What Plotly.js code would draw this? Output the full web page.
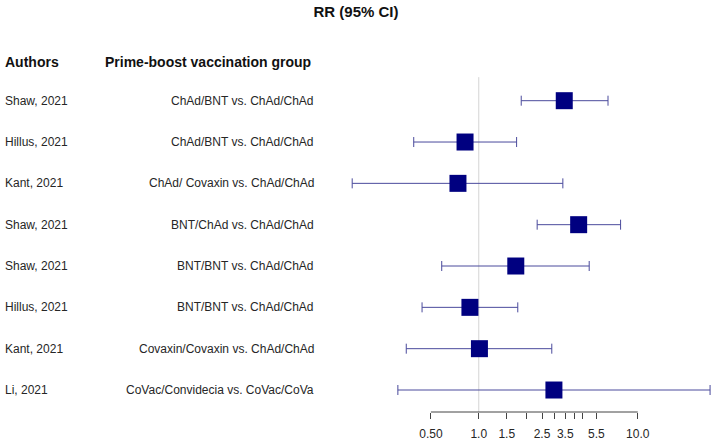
<!DOCTYPE html>
<html>
<head>
<meta charset="utf-8">
<script src="https://cdn.plot.ly/plotly-3.0.1.min.js"></script>
<style>
  body { margin: 0; background: #fff; }
  #chart { width: 712px; height: 441px; }
</style>
</head>
<body>
<div id="chart"></div>
<script>
// forest plot data, top row first
const authors = ["Shaw, 2021", "Hillus, 2021", "Kant, 2021", "Shaw, 2021",
                 "Shaw, 2021", "Hillus, 2021", "Kant, 2021", "Li, 2021"];
const groups = ["ChAd/BNT vs. ChAd/ChAd", "ChAd/BNT vs. ChAd/ChAd",
                "ChAd/ Covaxin vs. ChAd/ChAd", "BNT/ChAd vs. ChAd/ChAd",
                "BNT/BNT vs. ChAd/ChAd", "BNT/BNT vs. ChAd/ChAd",
                "Covaxin/Covaxin vs. ChAd/ChAd", "CoVac/Convidecia vs. CoVac/CoVa"];
const rr = [3.45, 0.82, 0.74, 4.25, 1.71, 0.88, 1.01, 2.97];
const lower = [1.85, 0.39, 0.16, 2.33, 0.585, 0.44, 0.35, 0.31];
const upper = [6.5, 1.73, 3.38, 7.8, 4.95, 1.76, 2.88, 28.5];

const tickVals = [0.5, 1, 1.5, 2, 2.5, 3, 3.5, 4, 4.5, 5.5, 10];
const tickText = ["0.50", "1.0", "1.5", "", "2.5", "", "3.5", "", "", "5.5", "10.0"];

const W = 712;
const font = "Liberation Sans, Arial, sans-serif";
const n = rr.length;
const rowY = rr.map((_, i) => n - i);

let trace = {
    x: rr,
    y: rowY,
    type: "scatter",
    mode: "markers",
    marker: { symbol: "square", size: 17, color: "#000080" },
    error_x: {
        type: "data",
        symmetric: false,
        array: upper.map((u, i) => u - rr[i]),
        arrayminus: lower.map((l, i) => rr[i] - l),
        color: "#4a4a9c",
        thickness: 1,
        width: 5
    },
    hoverinfo: "x",
    showlegend: false
};

let annotations = [];
authors.forEach((a, i) => {
    annotations.push({ text: a, x: 3 / W, xref: "paper", xanchor: "left",
        y: rowY[i], yref: "y", showarrow: false, font: { size: 12, color: "#262626" } });
    annotations.push({ text: groups[i], x: 316 / W, xref: "paper", xanchor: "right",
        y: rowY[i], yref: "y", showarrow: false, font: { size: 12, color: "#262626" } });
});
// column headers
annotations.push({ text: "<b>Authors</b>", x: 3 / W, xref: "paper", xanchor: "left",
    y: 8.94, yref: "y", showarrow: false, font: { size: 14, color: "#111" } });
annotations.push({ text: "<b>Prime-boost vaccination group</b>", x: 103 / W, xref: "paper",
    xanchor: "left", y: 8.94, yref: "y", showarrow: false, font: { size: 14, color: "#111" } });

let layout = {
    width: 712,
    height: 441,
    margin: { l: 0, r: 0, t: 0, b: 29 },
    paper_bgcolor: "#fff",
    plot_bgcolor: "#fff",
    font: { family: font, color: "#222" },
    title: {
        text: "<b>RR (95% CI)</b>",
        font: { size: 15, color: "#111" },
        x: 0.5, xref: "paper",
        y: 1 - 12 / 441, yref: "container", yanchor: "middle"
    },
    xaxis: {
        type: "log",
        range: [-3.011, 1.467],
        tickvals: tickVals,
        ticktext: tickText,
        ticks: "outside",
        ticklen: 6,
        tickcolor: "#444",
        ticklabelstandoff: 5,
        tickfont: { size: 12, color: "#262626" },
        showline: false,
        showgrid: false,
        zeroline: false,
        fixedrange: true
    },
    yaxis: {
        range: [0.468, 10.436],
        visible: false,
        showgrid: false,
        zeroline: false,
        fixedrange: true
    },
    shapes: [
        // no-effect line at RR = 1
        { type: "line", xref: "x", yref: "y", x0: 1, x1: 1, y0: 0.468, y1: 8.57,
          line: { color: "#d4d4d4", width: 1 }, layer: "below" },
        // axis line only over the tick range
        { type: "line", xref: "x", yref: "paper", x0: 0.5, x1: 10, y0: 0, y1: 0,
          line: { color: "#444", width: 1 } }
    ],
    annotations: annotations
};

Plotly.newPlot("chart", [trace], layout, { displayModeBar: false, staticPlot: true });
</script>
</body>
</html>
